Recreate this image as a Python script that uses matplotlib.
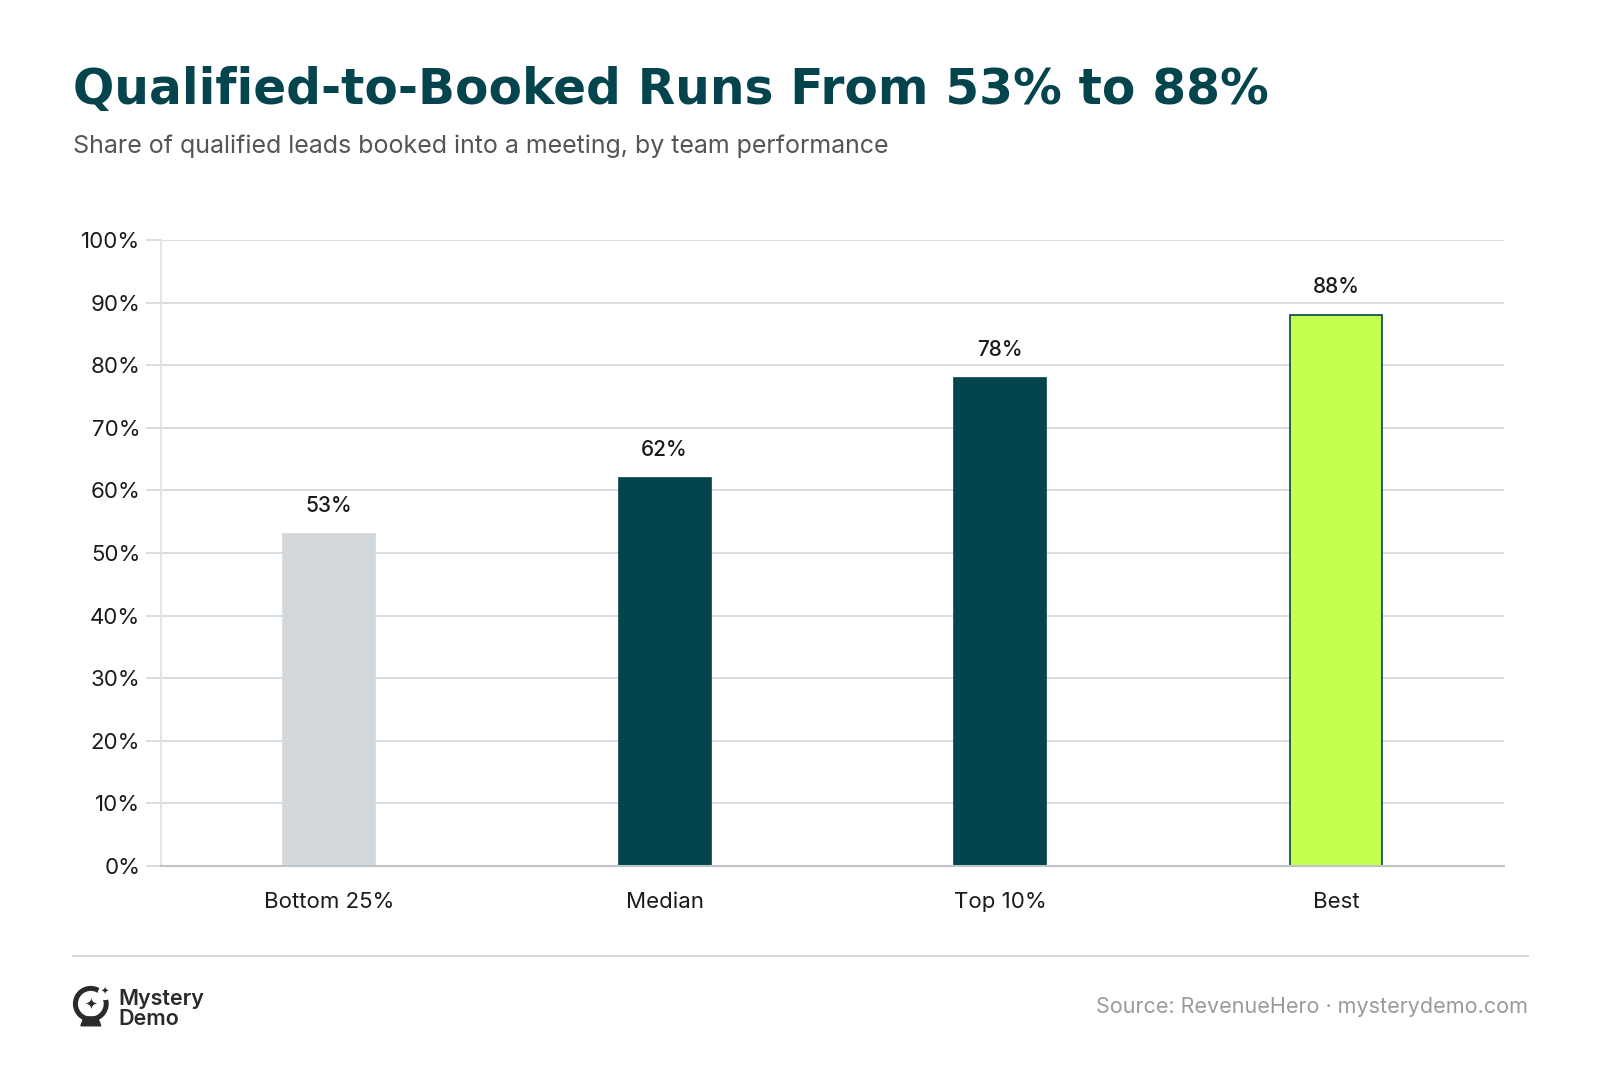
import numpy as np
import matplotlib
import matplotlib.pyplot as plt
from matplotlib.patches import Circle, Polygon
matplotlib.use('Agg')

categories = ['Bottom 25%', 'Median', 'Top 10%', 'Best']
values = [53, 62, 78, 88]
bar_colors = ['#d3d8dc', '#04444d', '#04444d', '#c5ff4f']
edge_colors = ['#d3d8dc', '#04444d', '#04444d', '#04444d']
yticks = [0, 10, 20, 30, 40, 50, 60, 70, 80, 90, 100]

title = 'Qualified-to-Booked Runs From 53% to 88%'
subtitle = 'Share of qualified leads booked into a meeting, by team performance'
source = 'Source: RevenueHero \u00b7 mysterydemo.com'

plt.rcParams['font.family'] = ['Inter', 'DejaVu Sans']

W, H = 1600, 1082
fig = plt.figure(figsize=(W / 100, H / 100), dpi=100)
fig.patch.set_facecolor('white')

# axes in pixel coords
left, right, top, bottom = 161, 1504, 240, 866
ax = fig.add_axes([left / W, 1 - bottom / H, (right - left) / W, (bottom - top) / H])

x = np.arange(len(categories))
bars = ax.bar(x, values, width=0.274, color=bar_colors, edgecolor=edge_colors,
              linewidth=1.2, zorder=3)
for xi, v in zip(x, values):
    ax.annotate(f'{v}%', (xi, v), xytext=(0, 13), textcoords='offset points',
                ha='center', va='bottom', fontsize=15, fontweight='medium',
                color='#1a1a1a')

ax.set_xlim(-0.5, 3.5)
ax.set_ylim(0, 100)
ax.set_yticks(yticks)
ax.set_yticklabels([f'{t}%' for t in yticks], fontsize=16, color='#1a1a1a')
ax.set_xticks(x)
ax.set_xticklabels(categories, fontsize=16, color='#1a1a1a')
ax.tick_params(axis='y', length=11, width=1.3, color='#d5d9dd', pad=4)
ax.tick_params(axis='x', length=0, pad=19)
ax.grid(axis='y', color='#d5d9dd', linewidth=1.3, zorder=0)
for s in ['top', 'right']:
    ax.spines[s].set_visible(False)
ax.spines['left'].set_color('#dfe2e5')
ax.spines['left'].set_linewidth(1.3)
ax.spines['bottom'].set_color('#bfc4c8')
ax.spines['bottom'].set_linewidth(1.5)
ax.spines['bottom'].set_zorder(4)

# title block
fig.text(73 / W, 1 - 90 / H, title, fontsize=35, fontweight='heavy',
         color='#04444d', va='center', ha='left', family=['DejaVu Sans'])
fig.text(73 / W, 1 - 146 / H, subtitle, fontsize=18, color='#555555',
         va='center', ha='left')

# footer
fig.add_artist(plt.Line2D([73 / W, 1528 / W], [1 - 956 / H, 1 - 956 / H],
                          color='#d5d9dd', linewidth=1.5))
fig.text(1528 / W, 1 - 1007 / H, source, fontsize=15.5, color='#9a9a9a',
         ha='right', va='center')
fig.text(118 / W, 1 - 1009 / H, 'Mystery\nDemo', fontsize=15.5, fontweight='semibold',
         color='#2a2a2a', ha='left', va='center', linespacing=0.95)

# little logo mark
lax = fig.add_axes([71 / W, 1 - 1028 / H, 44 / W, 44 / H])
lax.set_xlim(0, 40)
lax.set_ylim(0, 40)
lax.set_aspect('equal')
lax.axis('off')
lax.add_patch(Circle((18, 22), 14, fill=False, lw=3.6, color='#2a2a2a'))
lax.add_patch(Polygon([[9, 2], [27, 2], [24, 10], [12, 10]], color='#2a2a2a'))
lax.add_patch(Circle((31, 32), 6, color='white'))
lax.text(18, 22, '\u2726', fontsize=11, ha='center', va='center', color='#2a2a2a',
         family=['DejaVu Sans'])
lax.text(31, 33, '\u2726', fontsize=7, ha='center', va='center', color='#2a2a2a',
         family=['DejaVu Sans'])

fig.savefig('out.png', dpi=100)
